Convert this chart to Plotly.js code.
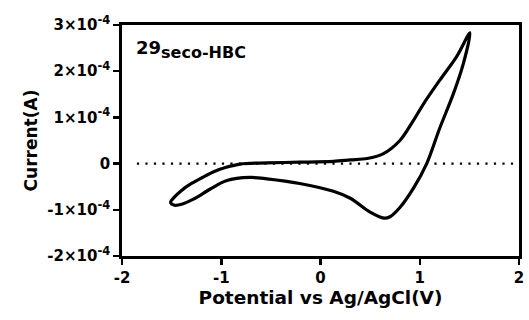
<!DOCTYPE html>
<html>
<head>
<meta charset="utf-8">
<script src="https://cdn.plot.ly/plotly-3.0.1.min.js"></script>
<style>html,body{margin:0;padding:0;background:#fff;}#chart{width:529px;height:320px;}</style>
</head>
<body>
<div id="chart"></div>
<script>
// Cyclic voltammogram, potential (V) and current (A)
const potential = [-1.51, -1.47, -1.40, -1.30, -1.19, -1.07, -0.95, -0.81, -0.54, -0.21, 0.13, 0.30, 0.47, 0.63, 0.80, 0.935, 1.04, 1.20, 1.37, 1.506,
  1.44, 1.34, 1.20, 1.07, 0.94, 0.80, 0.70, 0.64, 0.50, 0.30, 0.13, -0.21, -0.54, -0.71, -0.95, -1.11, -1.28, -1.40, -1.47, -1.51];
const current = [-0.84e-4, -0.72e-4, -0.58e-4, -0.43e-4, -0.30e-4, -0.17e-4, -0.08e-4, -0.01e-4, 0.015e-4, 0.03e-4, 0.05e-4, 0.08e-4, 0.11e-4, 0.21e-4, 0.50e-4, 0.93e-4, 1.30e-4, 1.80e-4, 2.31e-4, 2.83e-4,
  2.17e-4, 1.52e-4, 0.76e-4, 0.0e-4, -0.52e-4, -0.95e-4, -1.15e-4, -1.18e-4, -1.05e-4, -0.75e-4, -0.60e-4, -0.43e-4, -0.33e-4, -0.30e-4, -0.37e-4, -0.55e-4, -0.77e-4, -0.88e-4, -0.90e-4, -0.84e-4];
const zeroLineX = [-1.85, 1.95];
const zeroLineY = [0, 0];
const yTickVals = [-2e-4, -1e-4, 0, 1e-4, 2e-4, 3e-4];
const yTickMant = ['-2', '-1', '0', '1', '2', '3'];
const yTickExp = ['-4', '-4', '', '-4', '-4', '-4'];
const xTickVals = [-2, -1, 0, 1, 2];
const xTickText = ['-2', '-1', '0', '1', '2'];
const labelMain = '29';
const labelSub = 'seco-HBC';

const font = 'DejaVu Sans, sans-serif';
const yTickText = yTickMant.map((m, i) => yTickExp[i]
  ? '<b>' + m + '×10<sup><span style="font-size:11.5px;font-weight:bold">' + yTickExp[i] + '</span></sup></b>'
  : '<b>' + m + '</b>');
const traces = [
  {x: zeroLineX, y: zeroLineY, mode: 'lines', line: {color: '#000', width: 2.2, dash: '2.2px,6.3px'}, hoverinfo: 'skip'},
  {x: potential, y: current, mode: 'lines', line: {color: '#000', width: 3.2, shape: 'spline', smoothing: 0.9}}
];
const layout = {
  width: 529, height: 320,
  margin: {l: 122, r: 10, t: 25, b: 64},
  showlegend: false,
  paper_bgcolor: '#fff', plot_bgcolor: '#fff',
  font: {family: font, color: '#000'},
  xaxis: {
    range: [-2, 2], tickvals: xTickVals, ticktext: xTickText.map(t => '<b>' + t + '</b>'),
    showgrid: false, zeroline: false,
    showline: true, linecolor: '#000', linewidth: 2.8, mirror: true,
    ticks: 'outside', ticklen: 6, tickwidth: 2.5, tickcolor: '#000',
    tickfont: {family: font, size: 15, color: '#000', weight: 700},
    title: {text: '<b>Potential vs Ag/AgCl(V)</b>', font: {family: font, size: 18.5, color: '#000'}, standoff: 6}
  },
  yaxis: {
    range: [-2e-4, 3e-4], tickvals: yTickVals, ticktext: yTickText,
    showgrid: false, zeroline: false,
    showline: true, linecolor: '#000', linewidth: 2.8, mirror: true,
    ticks: 'outside', ticklen: 6, tickwidth: 2.5, tickcolor: '#000',
    tickfont: {family: font, size: 15, color: '#000', weight: 700},
    title: {text: '<b>Current(A)</b>', font: {family: font, size: 17, color: '#000'}, standoff: 6}
  },
  annotations: [{
    xref: 'paper', yref: 'paper', x: 0.03, y: 0.955, xanchor: 'left', yanchor: 'top',
    text: '<b>' + labelMain + '<sub><span style="font-size:16px">' + labelSub + '</span></sub></b>', showarrow: false,
    font: {family: font, size: 18, color: '#000'}
  }]
};
Plotly.newPlot('chart', traces, layout, {staticPlot: true, displayModeBar: false});
</script>
</body>
</html>
